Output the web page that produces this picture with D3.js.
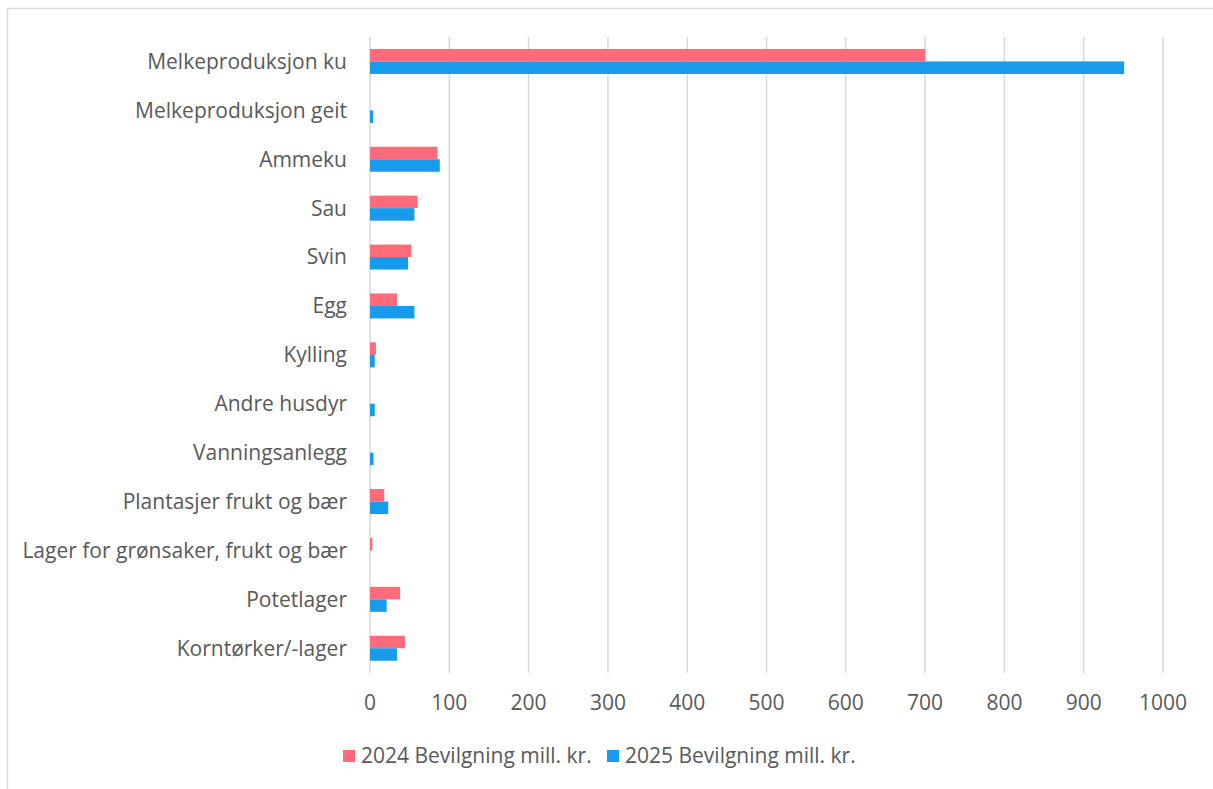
<!DOCTYPE html>
<html>
<head>
<meta charset="utf-8">
<script src="https://cdn.jsdelivr.net/npm/d3@7.9.0/dist/d3.min.js"></script>
<style>
  body { margin: 0; background: #fff; }
  svg { display: block; font-family: "Open Sans", "Noto Sans", sans-serif; }
</style>
</head>
<body>
<svg id="chart" width="1213" height="789"></svg>
<script>
// categories, top to bottom
const categories = [
  "Melkeproduksjon ku", "Melkeproduksjon geit", "Ammeku", "Sau", "Svin", "Egg",
  "Kylling", "Andre husdyr", "Vanningsanlegg", "Plantasjer frukt og bær",
  "Lager for grønsaker, frukt og bær", "Potetlager", "Korntørker/-lager"
];
const values2024 = [700, 0, 85, 60, 52, 34, 7.5, 0, 0, 18, 3, 38, 44];
const values2025 = [951, 4, 88, 56, 48, 56, 6, 6, 4.5, 23, 0, 21, 34];
const seriesNames = ["2024 Bevilgning mill. kr.", "2025 Bevilgning mill. kr."];
const seriesColors = ["#ff6b78", "#179ceb"];
const xTicks = [0, 100, 200, 300, 400, 500, 600, 700, 800, 900, 1000];

const svg = d3.select("#chart");

// outer frame (only top and left edges are visible)
svg.append("path")
  .attr("d", "M7.5,789V8.5H1213")
  .attr("fill", "none").attr("stroke", "#d9d9d9").attr("stroke-width", 1.5);

const plotLeft = 370, plotRight = 1163, plotTop = 37, plotBottom = 672.7;

const x = d3.scaleLinear().domain([0, 1000]).range([plotLeft, plotRight]);
const y = d3.scaleBand().domain(categories).range([plotTop, plotBottom]);
const inner = d3.scaleBand().domain([0, 1]).range([y.bandwidth() / 2 - 12.5, y.bandwidth() / 2 + 12.5]);

// gridlines
svg.append("g").selectAll("line")
  .data(xTicks)
  .join("line")
  .attr("x1", d => x(d)).attr("x2", d => x(d))
  .attr("y1", plotTop).attr("y2", plotBottom)
  .attr("stroke", "#d9d9d9").attr("stroke-width", 1.5);

// tick labels
svg.append("g").selectAll("text")
  .data(xTicks)
  .join("text")
  .attr("x", d => x(d)).attr("y", 703)
  .attr("dy", "0.35em")
  .attr("text-anchor", "middle")
  .attr("font-size", 21).attr("fill", "#595959")
  .text(d => d);

// category labels
svg.append("g").selectAll("text")
  .data(categories)
  .join("text")
  .attr("x", 347).attr("y", d => y(d) + y.bandwidth() / 2)
  .attr("dy", "0.35em")
  .attr("text-anchor", "end")
  .attr("font-size", 21).attr("fill", "#595959")
  .text(d => d);

// bars
[values2024, values2025].forEach((vals, s) => {
  svg.append("g").selectAll("rect")
    .data(vals)
    .join("rect")
    .attr("x", x(0))
    .attr("y", (d, i) => y(categories[i]) + inner(s))
    .attr("width", d => x(d) - x(0))
    .attr("height", inner.bandwidth())
    .attr("fill", seriesColors[s]);
});

// legend
const legendX = [343, 607];
seriesNames.forEach((name, s) => {
  const g = svg.append("g").attr("transform", `translate(${legendX[s]},756)`);
  g.append("rect").attr("x", 0).attr("y", -6).attr("width", 12).attr("height", 12)
    .attr("fill", seriesColors[s]);
  g.append("text").attr("x", 18).attr("dy", "0.35em")
    .attr("font-size", 21).attr("fill", "#595959")
    .text(name);
});
</script>
</body>
</html>
